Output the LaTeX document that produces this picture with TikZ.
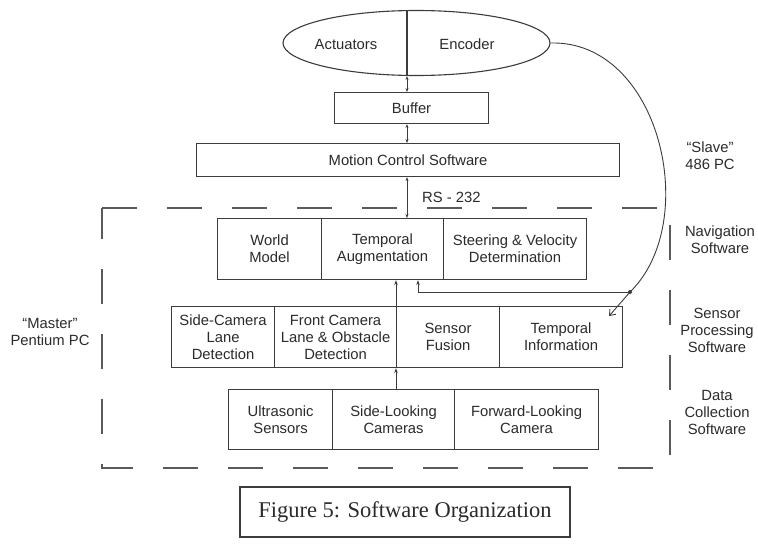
\documentclass[tikz,border=0pt]{standalone}
\usepackage{fontspec}
\setmainfont{Liberation Sans}
\newfontfamily\captionserif{Liberation Serif}
\usetikzlibrary{arrows.meta,shapes.geometric}
\definecolor{ink}{HTML}{2B2B2B}
\definecolor{rule}{HTML}{3C3C3C}
\definecolor{dashgray}{HTML}{5A5A5A}
\begin{document}
\begin{tikzpicture}[x=1pt,y=-1pt,
  every node/.style={text=ink, font=\fontsize{14.8}{17}\selectfont},
  cell/.style={draw=rule, line width=1.1pt, align=center, inner sep=0pt, anchor=north west},
  tag/.style={align=center, inner sep=0pt},
  link/.style={draw=rule, line width=0.9pt},
  uparrow/.style={link, -{Stealth[length=5pt,width=3.5pt]}},
  twoway/.style={link, {Stealth[length=4pt,width=3pt]}-{Stealth[length=4pt,width=3pt]}},
  groupbox/.style={draw=dashgray, line width=1.2pt, dash pattern=on 35pt off 30pt},
]
\useasboundingbox (0,0) rectangle (758,559);
\fill[white] (0,0) rectangle (758,559);

% hardware: actuators and encoder
\node[draw=rule, line width=1.1pt, ellipse, minimum width=267pt, minimum height=65pt, inner sep=0pt] (hw) at (416.5,43) {};
\draw[link, line width=1.1pt] (407,11) -- (407,75);
\node (act) at (346,44) {Actuators};
\node (enc) at (467,44) {Encoder};

% slave PC
\node[cell, minimum width=154pt, minimum height=31pt] (buf) at (334,92) {Buffer};
\node[cell, minimum width=423pt, minimum height=33pt] (mcs) at (196,143) {Motion Control Software};

% navigation software
\node[cell, minimum width=104pt, minimum height=61pt] (world) at (217,218) {World\\Model};
\node[cell, minimum width=122pt, minimum height=61pt] (taug) at (321,218) {Temporal\\Augmentation};
\node[cell, minimum width=143pt, minimum height=61pt] (steer) at (443,218) {Steering \& Velocity\\Determination};

% sensor processing software
\node[cell, minimum width=103pt, minimum height=61pt] (sidecam) at (171,306) {Side-Camera\\Lane\\Detection};
\node[cell, minimum width=122pt, minimum height=61pt] (frontcam) at (274,306) {Front Camera\\Lane \& Obstacle\\Detection};
\node[cell, minimum width=103pt, minimum height=61pt] (fusion) at (396,306) {Sensor\\Fusion};
\node[cell, minimum width=123pt, minimum height=61pt] (tinfo) at (499,306) {Temporal\\Information};

% data collection software
\node[cell, minimum width=104pt, minimum height=60pt] (ultra) at (228,389) {Ultrasonic\\Sensors};
\node[cell, minimum width=122pt, minimum height=60pt] (sidelook) at (332,389) {Side-Looking\\Cameras};
\node[cell, minimum width=144pt, minimum height=60pt] (fwd) at (454,389) {Forward-Looking\\Camera};

% master PC boundary
\draw[groupbox] (102,208) -- (670,208) -- (670,468) -- (102,468) -- cycle;

% vertical data path
\coordinate (bus) at (407,0);
\coordinate (upline) at (396,0);
\coordinate (fb) at (418,0);
\draw[twoway] (hw.south -| bus) -- (buf.north -| bus);
\draw[twoway] (buf.south -| bus) -- (mcs.north -| bus);
\draw[twoway] (mcs.south -| bus) -- (taug.north -| bus);
\node[tag, anchor=west] (rs) at (422,197) {RS - 232};
\draw[uparrow] (sidelook.north -| upline) -- (fusion.south west);
\draw[uparrow] (fusion.north west) -- (taug.south -| upline);

% encoder feedback
\coordinate (junction) at (630,292);
\draw[link] (hw.east) .. controls (660,40) and (702,222) .. (junction);
\draw[uparrow] (junction) -| (taug.south -| fb);
\draw[link, -{Straight Barb[length=5pt,width=8pt]}] (junction) -- ([shift={(-14,10)}]tinfo.north east);
\fill[rule] (junction) circle (2pt);

% side labels
\node[tag] (slave) at (710,156) {“Slave”\\486 PC};
\node[tag] (navsw) at (720,240) {Navigation\\Software};
\node[tag] (spsw) at (717,330) {Sensor\\Processing\\Software};
\node[tag] (dcsw) at (717,412) {Data\\Collection\\Software};
\node[tag] (master) at (50,332) {“Master”\\Pentium PC};

% caption
\node[draw=rule, line width=1.2pt, minimum width=330pt, minimum height=50pt, inner sep=0pt, font=\captionserif\fontsize{22.5}{26}\selectfont] (cap) at (405,512) {Figure 5: Software Organization};
\end{tikzpicture}
\end{document}
